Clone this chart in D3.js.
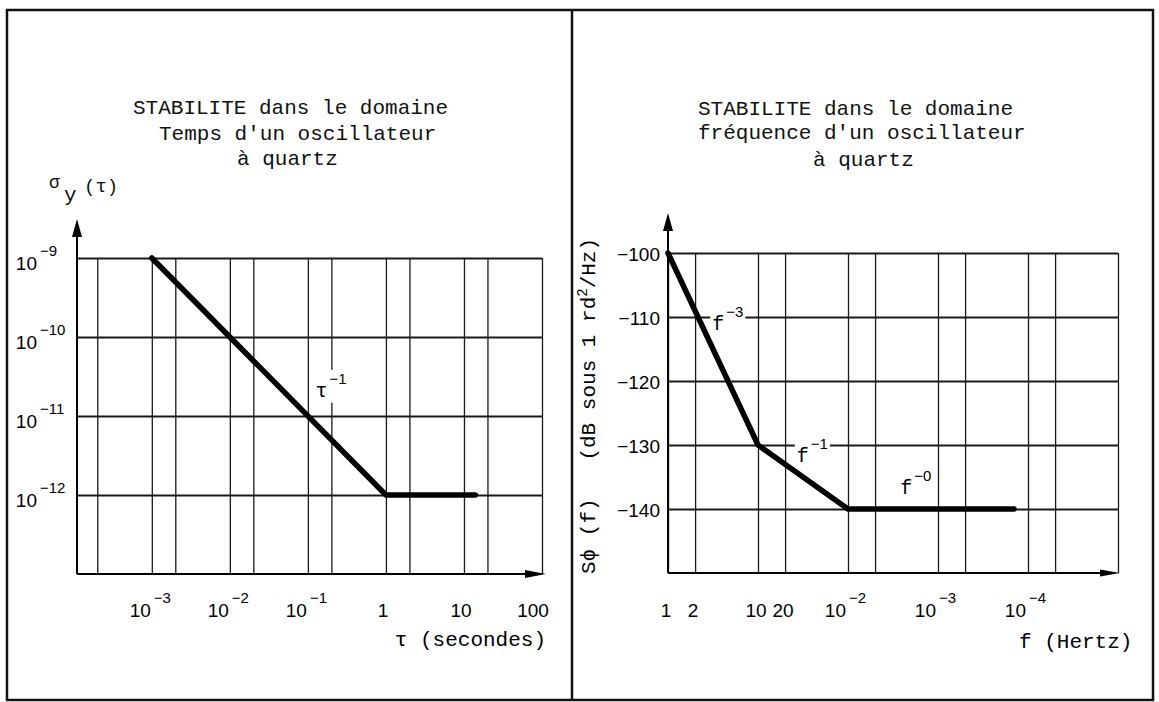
<html>
<head>
  <script src="https://d3js.org/d3.v7.min.js"></script>
  <style>
    body{ margin:0; background:#fff; }
    svg{ display:block; }
  </style>
</head>
<body>
  <script type="text/javascript">

    // ---- data (left : time domain) ----
    var tauGrid   = [2e-4, 1e-3, 2e-3, 1e-2, 2e-2, 0.1, 0.2, 1, 2, 10, 20, 100]
    var tauTicks  = [1e-3, 1e-2, 1e-1, 1, 10, 100]
    var tauBase   = ["10", "10", "10", "1", "10", "100"]
    var tauExp    = ["−3", "−2", "−1", "", "", ""]
    var sigmaTicks = [1e-9, 1e-10, 1e-11, 1e-12]
    var sigmaExp   = ["−9", "−10", "−11", "−12"]
    var curveTau   = [1e-3, 1, 14]
    var curveSigma = [1e-9, 1e-12, 1e-12]

    // ---- data (right : frequency domain) ----
    var freqGrid  = [1, 2, 10, 20, 100, 200, 1000, 2000, 1e4, 2e4, 1e5]
    var freqTicks = [1, 2, 10, 20, 100, 1000, 1e4]
    var freqBase  = ["1", "2", "10", "20", "10", "10", "10"]
    var freqExp   = ["", "", "", "", "−2", "−3", "−4"]
    var sphiTicks = [-100, -110, -120, -130, -140]
    var curveF    = [1, 10, 100, 7000]
    var curveS    = [-100, -130, -140, -140]
    var slopeBase = ["f", "f", "f"]
    var slopeExp  = ["−3", "−1", "−0"]
    var slopeF    = [3.1, 27, 380]
    var slopeS    = [-112, -132.7, -137.6]

    var mono = "'Liberation Mono','DejaVu Sans Mono',monospace"
    var sans = "'Liberation Sans',Arial,sans-serif"

    var svg = d3.select("body").append("svg")
                .attr("width", 1159).attr("height", 702)

    // frame
    svg.append("rect").attr("x", 7).attr("y", 10).attr("width", 1146).attr("height", 690)
       .attr("fill", "none").attr("stroke", "#111").attr("stroke-width", 2.5)
    svg.append("line").attr("x1", 572).attr("x2", 572).attr("y1", 10).attr("y2", 700)
       .attr("stroke", "#111").attr("stroke-width", 2.5)

    function title(lines, xs, ys){
      lines.forEach(function(t, i){
        svg.append("text").attr("x", xs[i]).attr("y", ys[i])
           .attr("font-family", mono).attr("font-size", 21).attr("fill", "#111")
           .attr("xml:space", "preserve").text(t)
      })
    }
    title(["STABILITE dans le domaine", "Temps d'un oscillateur", "à quartz"], [133, 159, 237], [114, 140, 165])
    title(["STABILITE dans le domaine", "fréquence d'un oscillateur", "à quartz"], [698, 698, 813], [115, 139, 166])

    function arrow(tipX, tipY, dir, len, half){
      var p
      if (dir == "up") p = [[tipX, tipY], [tipX-half, tipY+len], [tipX+half, tipY+len]]
      else p = [[tipX, tipY], [tipX-len, tipY-half], [tipX-len, tipY+half]]
      svg.append("path").attr("d", "M" + p.join("L") + "Z").attr("fill", "#000")
    }

    function gridStyle(g, w){
      g.select(".domain").remove()
      g.selectAll(".tick line").attr("stroke", "#1a1a1a").attr("stroke-width", w)
      g.selectAll(".tick text").remove()
    }

    // =================== LEFT CHART ===================
    var xL = d3.scaleLog().domain([1.1e-4, 100]).range([77, 542])
    var yL = d3.scaleLog().domain([1e-13, 1e-9]).range([574, 258])

    var gxL = svg.append("g").attr("transform", "translate(0," + yL(1e-13) + ")")
                 .call(d3.axisBottom(xL).tickValues(tauGrid).tickSize(-(yL(1e-13) - yL(1e-9))).tickFormat(""))
    gridStyle(gxL, 1.3)
    var gyL = svg.append("g").attr("transform", "translate(" + xL(1.1e-4) + ",0)")
                 .call(d3.axisLeft(yL).tickValues(sigmaTicks).tickSize(-(xL(100) - xL(1.1e-4))).tickFormat(""))
    gridStyle(gyL, 1.8)

    // axes
    svg.append("line").attr("x1", xL(1.1e-4)).attr("x2", xL(1.1e-4)).attr("y1", 574).attr("y2", 228)
       .attr("stroke", "#000").attr("stroke-width", 2)
    svg.append("line").attr("x1", xL(1.1e-4)).attr("x2", 535).attr("y1", 574).attr("y2", 574)
       .attr("stroke", "#000").attr("stroke-width", 2)
    arrow(xL(1.1e-4), 219, "up", 18, 5)
    arrow(546, 574, "right", 21, 4)

    // curve
    var lineL = d3.line().x(function(d){ return xL(d[0]) }).y(function(d){ return yL(d[1]) })
    svg.append("path").datum(d3.zip(curveTau, curveSigma)).attr("d", lineL)
       .attr("fill", "none").attr("stroke", "#000").attr("stroke-width", 5.5)
       .attr("stroke-linejoin", "round").attr("stroke-linecap", "round")

    // y tick labels
    sigmaTicks.forEach(function(v, i){
      svg.append("text").attr("x", 37).attr("y", yL(v) + 12).attr("text-anchor", "end")
         .attr("font-family", sans).attr("font-size", 19).text("10")
      svg.append("text").attr("x", 40).attr("y", yL(v) - 2)
         .attr("font-family", sans).attr("font-size", 15).text(sigmaExp[i])
    })

    // x tick labels
    tauTicks.forEach(function(v, i){
      var x = xL(v)
      if (tauExp[i]) {
        svg.append("text").attr("x", x - 1).attr("y", 617).attr("text-anchor", "end")
           .attr("font-family", sans).attr("font-size", 19).text(tauBase[i])
        svg.append("text").attr("x", x + 2).attr("y", 603)
           .attr("font-family", sans).attr("font-size", 15).text(tauExp[i])
      } else {
        svg.append("text").attr("x", x - (tauBase[i].length > 2 ? 9 : 3)).attr("y", 617).attr("text-anchor", "middle")
           .attr("font-family", sans).attr("font-size", 19).text(tauBase[i])
      }
    })

    svg.append("text").attr("x", 546).attr("y", 646).attr("text-anchor", "end")
       .attr("font-family", mono).attr("font-size", 21).attr("xml:space", "preserve").text("τ (secondes)")

    // sigma_y(tau) label
    var sl = svg.append("text").attr("font-family", mono).attr("fill", "#111")
    sl.append("tspan").attr("x", 49).attr("y", 188).attr("font-size", 18).text("σ")
    sl.append("tspan").attr("x", 64).attr("y", 201).attr("font-size", 21).text("y")
    sl.append("tspan").attr("x", 84).attr("y", 192).attr("font-size", 19).text("(τ)")

    // slope label tau^-1
    function slopeLabel(x, y, base, exp){
      var g = svg.append("g")
      var bg = g.append("rect").attr("fill", "#fff")
      g.append("text").attr("x", x).attr("y", y).attr("font-family", mono).attr("font-size", 20).text(base)
      g.append("text").attr("x", x + 14).attr("y", y - 13).attr("font-family", sans).attr("font-size", 15).text(exp)
      var b = g.node().getBBox()
      bg.attr("x", b.x - 2).attr("y", b.y).attr("width", b.width + 4).attr("height", b.height)
    }
    slopeLabel(xL(0.125), yL(1.75e-11), "τ", "−1")

    // =================== RIGHT CHART ===================
    var xR = d3.scaleLog().domain([1, 1e5]).range([668, 1118])
    var yR = d3.scaleLinear().domain([-150, -100]).range([573, 253])

    var gxR = svg.append("g").attr("transform", "translate(0," + yR(-150) + ")")
                 .call(d3.axisBottom(xR).tickValues(freqGrid).tickSize(-(yR(-150) - yR(-100))).tickFormat(""))
    gridStyle(gxR, 1.3)
    var gyR = svg.append("g").attr("transform", "translate(" + xR(1) + ",0)")
                 .call(d3.axisLeft(yR).tickValues(sphiTicks).tickSize(-(xR(1e5) - xR(1))).tickFormat(""))
    gridStyle(gyR, 1.8)

    svg.append("line").attr("x1", xR(1)).attr("x2", xR(1)).attr("y1", 573).attr("y2", 222)
       .attr("stroke", "#000").attr("stroke-width", 2)
    svg.append("line").attr("x1", xR(1)).attr("x2", 1110).attr("y1", 573).attr("y2", 573)
       .attr("stroke", "#000").attr("stroke-width", 2)
    arrow(xR(1), 213, "up", 18, 5)
    arrow(1120, 573, "right", 20, 3.5)

    // slope labels (drawn before the curve so the curve stays on top)
    slopeBase.forEach(function(b, i){
      slopeLabel(xR(slopeF[i]), yR(slopeS[i]), b, slopeExp[i])
    })

    var lineR = d3.line().x(function(d){ return xR(d[0]) }).y(function(d){ return yR(d[1]) })
    svg.append("path").datum(d3.zip(curveF, curveS)).attr("d", lineR)
       .attr("fill", "none").attr("stroke", "#000").attr("stroke-width", 5.5)
       .attr("stroke-linejoin", "round").attr("stroke-linecap", "round")

    sphiTicks.forEach(function(v){
      svg.append("text").attr("x", 660).attr("y", yR(v) + 8).attr("text-anchor", "end")
         .attr("font-family", sans).attr("font-size", 19).text("−" + Math.abs(v))
    })

    freqTicks.forEach(function(v, i){
      var x = xR(v)
      if (freqExp[i]) {
        svg.append("text").attr("x", x - 2).attr("y", 617).attr("text-anchor", "end")
           .attr("font-family", sans).attr("font-size", 19).text(freqBase[i])
        svg.append("text").attr("x", x + 1).attr("y", 603)
           .attr("font-family", sans).attr("font-size", 15).text(freqExp[i])
      } else {
        svg.append("text").attr("x", x - 2).attr("y", 617).attr("text-anchor", "middle")
           .attr("font-family", sans).attr("font-size", 19).text(freqBase[i])
      }
    })

    svg.append("text").attr("x", 1019).attr("y", 648)
       .attr("font-family", mono).attr("font-size", 21).attr("xml:space", "preserve").text("f (Hertz)")

    // rotated y label
    var yl = svg.append("text").attr("transform", "translate(595,574) rotate(-90)")
                .attr("font-family", mono).attr("font-size", 21).attr("xml:space", "preserve")
    yl.append("tspan").text("Sϕ (f)   (dB sous 1 rd")
    yl.append("tspan").attr("font-size", 14).attr("dy", -8).text("2")
    yl.append("tspan").attr("dy", 8).text("/Hz)")

  </script>
</body>
</html>
